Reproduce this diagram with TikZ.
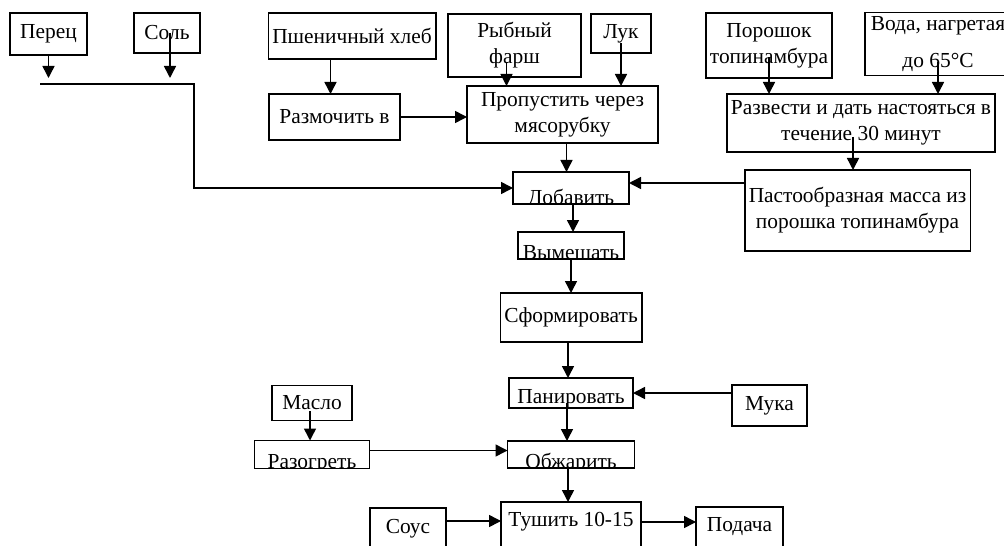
\documentclass[tikz,border=0pt]{standalone}
\usepackage{fontspec}
\setmainfont{Liberation Serif}
\usetikzlibrary{arrows.meta, positioning}
\tikzset{
  stepbox/.style={
    draw=black,
    line width=0.75pt,
    align=center,
    inner sep=2pt,
    outer sep=0pt,
    font=\fontsize{10.7}{13}\selectfont
  },
  cutbox/.style={
    stepbox,
    path picture={
      \node [draw=none, anchor=base, inner sep=0pt, font=\fontsize{10.7}{13}\selectfont]
        at ([yshift=-0.2pt]path picture bounding box.south) {#1};
    }
  },
  lift/.style={text height=0pt, text depth=#1},
  sink/.style={text height=#1, text depth=0pt},
  arrow/.style={draw, line width=0.75pt, ->, >={Triangle[length=6pt, width=6pt]}}
}
\begin{document}
\begin{tikzpicture}[x=0.5pt, y=-0.5pt]
    \useasboundingbox (0,0) rectangle (1004,545);
    \clip (0,0) rectangle (1004,545);
    \node (pepper) [stepbox, minimum width=38.5pt, minimum height=21pt] at (48.5,34) {Перец};
    \node (salt) [stepbox, minimum width=33pt, minimum height=20pt] at (167,33) {Соль};
    \node (loaf) [stepbox, minimum width=83pt, minimum height=23pt] at (352,36) {Пшеничный хлеб};
    \node (fish) [stepbox, minimum width=66.5pt, minimum height=31.5pt] at (514.5,45.5) {Рыбный\\фарш};
    \node (onion) [stepbox, minimum width=30pt, minimum height=19.5pt] at (621,33.5) {Лук};
    \node (powder) [stepbox, minimum width=63pt, minimum height=32.5pt] at (769,45.5) {Порошок\\топинамбура};
    \node (water) [stepbox, minimum width=73pt, minimum height=31pt] at (938,44) {Вода, нагретая\\[5.5pt]до 65°C};
    \node (soak) [stepbox, minimum width=65.5pt, minimum height=23pt] at (334.5,117) {Размочить в};
    \node (mince) [stepbox, minimum width=95.5pt, minimum height=28.5pt] at (562.5,114.5) {Пропустить через\\мясорубку};
    \node (dilute) [stepbox, minimum width=134pt, minimum height=29pt] at (861,123) {Развести и дать настояться в\\течение 30 минут};
    \node (paste) [stepbox, minimum width=112.5pt, minimum height=40.5pt] at (857.5,210.5) {Пастообразная масса из\\порошка топинамбура};
    \node (add) [cutbox=Добавить, minimum width=58pt, minimum height=16pt] at (571,188) {};
    \node (knead) [cutbox=Вымешать, minimum width=53pt, minimum height=13.5pt, below=14pt of add] {};
    \node (form) [stepbox, minimum width=70.5pt, minimum height=24.5pt, below=17pt of knead] {Сформировать};
    \node (coat) [stepbox, sink=10pt, minimum width=62pt, minimum height=15pt, below=18pt of form] {Панировать};
    \node (fry) [cutbox=Обжарить, minimum width=63.5pt, minimum height=13.5pt, below=16.5pt of coat] {};
    \node (stew) [stepbox, lift=11pt, minimum width=70pt, minimum height=35pt, below=17pt of fry] {Тушить 10-15};
    \node (sauce) [stepbox, lift=4pt, minimum width=38pt, minimum height=29pt, left=27.5pt of stew] {Соус};
    \node (serve) [stepbox, lift=6pt, minimum width=43.5pt, minimum height=30pt, right=27.5pt of stew] {Подача};
    \node (heat) [cutbox=Разогреть, minimum width=57.5pt, minimum height=14pt, left=69pt of fry] {};
    \node (oil) [stepbox, minimum width=40pt, minimum height=17.5pt, above=10pt of heat] {Масло};
    \node (flour) [stepbox, minimum width=37.5pt, minimum height=20.5pt] at (769.5,405.5) {Мука};
    \coordinate (mixL) at (40,84);
    \coordinate (mixR) at (194,84);
    \draw [arrow, shorten >=3pt] (pepper.south) -- (pepper.south |- mixL);
    \draw [arrow, shorten >=3pt] ([xshift=1.5pt]salt.center) -- ([xshift=1.5pt]salt.center |- mixL);
    \draw [arrow] (mixL) -- (mixR) |- (add.west);
    \draw [arrow] ([xshift=-2pt]soak.north |- loaf.south) -- ([xshift=-2pt]soak.north);
    \draw [arrow] (soak.east) -- (soak.east -| mince.west);
    \draw [arrow] ([xshift=-4pt, yshift=-9pt]fish.center) -- ([xshift=-4pt]fish.center |- mince.north);
    \draw [arrow] ([yshift=-5pt]onion.center) -- (onion.center |- mince.north);
    \draw [arrow] ([xshift=2pt]mince.south) -- ([xshift=2pt]mince.south |- add.north);
    \draw [arrow] ([yshift=-6pt]powder.center) -- (powder.center |- dilute.north);
    \draw [arrow] ([yshift=-9pt]water.center) -- (water.center |- dilute.north);
    \draw [arrow] ([xshift=-4pt, yshift=-7pt]dilute.center) -- ([xshift=-4pt]dilute.center |- paste.north);
    \draw [arrow] ([yshift=2.5pt]add.east -| paste.west) -- ([yshift=2.5pt]add.east);
    \draw [arrow] ([xshift=1pt]add.south) -- ([xshift=1pt]add.south |- knead.north);
    \draw [arrow] (knead.south) -- (form.north);
    \draw [arrow] ([xshift=-1.5pt]form.south) -- ([xshift=-1.5pt]form.south |- coat.north);
    \draw [arrow] (flour.west |- coat.east) -- (coat.east);
    \draw [arrow] ([xshift=-2pt, yshift=-5pt]coat.center) -- ([xshift=-2pt]coat.center |- fry.north);
    \draw [arrow] ([xshift=-1pt, yshift=-4pt]oil.center) -- ([xshift=-1pt]oil.center |- heat.north);
    \draw [arrow] ([yshift=2pt]heat.east) -- ([yshift=2pt]heat.east -| fry.west);
    \draw [arrow] ([xshift=-1.5pt]fry.south) -- ([xshift=-1.5pt]fry.south |- stew.north);
    \draw [arrow] ([yshift=8pt]sauce.east) -- ([yshift=8pt]sauce.east -| stew.west);
    \draw [arrow] ([yshift=7.5pt]stew.east) -- ([yshift=7.5pt]stew.east -| serve.west);
\end{tikzpicture}
\end{document}
